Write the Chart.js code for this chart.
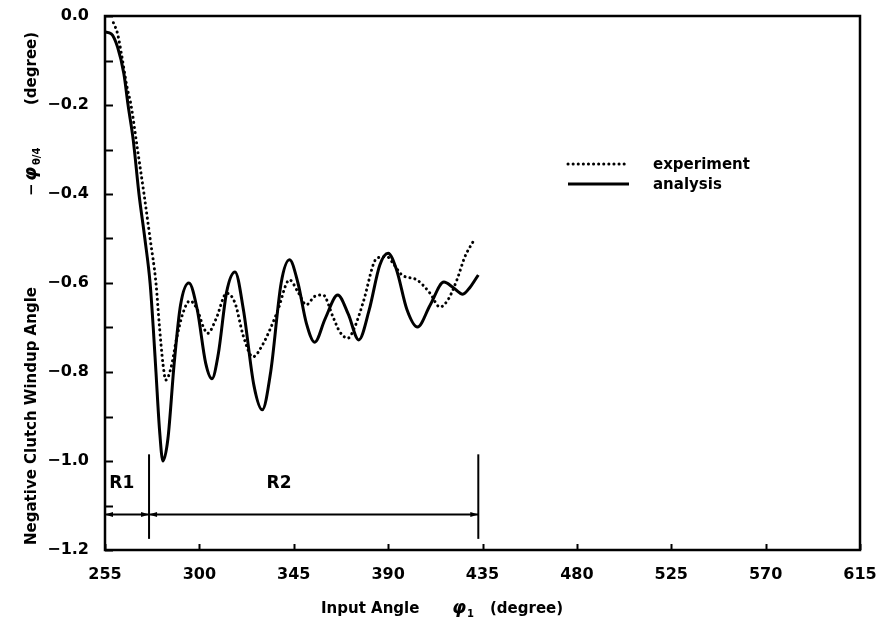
<!DOCTYPE html>
<html>
<head>
<meta charset="utf-8">
<script src="https://cdn.jsdelivr.net/npm/chart.js@4.4.1/dist/chart.umd.min.js"></script>
<style>
  html, body { margin: 0; padding: 0; background: #fff; }
  #wrap { width: 882px; height: 628px; }
</style>
</head>
<body>
<div id="wrap"><canvas id="windup" width="882" height="628"></canvas></div>
<script>
// analysis curve (solid)
const analysisX = [255, 258, 261, 264, 266, 268.5, 271.2, 274, 276.5, 278, 279.3, 281, 282.6, 285, 288, 291, 295, 299, 303, 306, 309, 313, 317, 321, 326, 330, 334, 339, 343, 347, 351, 355, 360, 366, 371, 376, 381, 386, 390, 394, 399, 404, 410, 416.6, 421, 425.6, 429, 433];
const analysisY = [-0.036, -0.04, -0.07, -0.13, -0.2, -0.28, -0.4, -0.5, -0.6, -0.7, -0.8, -0.93, -1.0, -0.95, -0.78, -0.65, -0.60, -0.66, -0.78, -0.815, -0.76, -0.62, -0.575, -0.66, -0.83, -0.885, -0.80, -0.60, -0.548, -0.60, -0.69, -0.733, -0.68, -0.627, -0.67, -0.728, -0.66, -0.56, -0.533, -0.57, -0.66, -0.699, -0.65, -0.598, -0.61, -0.625, -0.61, -0.582];

// experiment curve (dotted)
const experimentX = [259, 261, 263, 265.5, 267.4, 270.5, 273.6, 276.5, 279.3, 281, 282.6, 284, 286.5, 289, 292, 295.5, 299, 302, 304, 308, 313, 317, 321, 325.5, 330, 337, 343, 347, 351, 355, 359, 363.7, 367, 370.8, 374, 378, 384.7, 389.4, 393, 396.6, 403.7, 410, 414.7, 418.5, 422.8, 426.6, 430.4];
const experimentY = [-0.015, -0.04, -0.09, -0.16, -0.2, -0.3, -0.4, -0.5, -0.6, -0.7, -0.78, -0.818, -0.79, -0.728, -0.67, -0.64, -0.66, -0.70, -0.713, -0.68, -0.623, -0.645, -0.72, -0.766, -0.74, -0.667, -0.593, -0.62, -0.649, -0.63, -0.627, -0.676, -0.71, -0.724, -0.70, -0.645, -0.544, -0.541, -0.56, -0.582, -0.593, -0.623, -0.654, -0.638, -0.593, -0.541, -0.508];

// region markers R1 / R2
const regionEdges = [255, 276, 433];
const regionNames = ['R1', 'R2'];
const regionLabelX = [263, 338];
const regionLabelY = -1.05;
const regionBarY = -1.12;
const regionLineTop = -0.985;
const regionLineBottom = -1.175;

const legendNames = ['experiment', 'analysis'];

const FONT = '"DejaVu Sans", sans-serif';

function toPoints(xs, ys) {
  return xs.map((x, i) => ({ x: x, y: ys[i] }));
}

// frame, inward ticks, region marks, legend and axis titles
const decorations = {
  id: 'decorations',
  afterDraw(chart) {
    const ctx = chart.ctx;
    const area = chart.chartArea;
    const xs = chart.scales.x;
    const ys = chart.scales.y;
    ctx.save();
    ctx.strokeStyle = '#000';
    ctx.fillStyle = '#000';
    ctx.lineCap = 'butt';

    // frame
    ctx.lineWidth = 2.5;
    ctx.strokeRect(area.left, area.top, area.right - area.left, area.bottom - area.top);

    // y ticks (major + half steps), pointing inward
    ctx.lineWidth = 2;
    ys.ticks.forEach(t => {
      [t.value, t.value - 0.1].forEach(v => {
        if (v < ys.min - 1e-9) return;
        const py = Math.round(ys.getPixelForValue(v)) + 0.5;
        ctx.beginPath();
        ctx.moveTo(area.left, py);
        ctx.lineTo(area.left + 8, py);
        ctx.stroke();
      });
    });
    // x ticks
    xs.ticks.forEach(t => {
      const px = Math.round(xs.getPixelForValue(t.value)) + 0.5;
      ctx.beginPath();
      ctx.moveTo(px, area.bottom);
      ctx.lineTo(px, area.bottom - 6);
      ctx.stroke();
    });

    // region boundaries and arrow bar
    ctx.lineWidth = 2;
    const topY = ys.getPixelForValue(regionLineTop);
    const botY = ys.getPixelForValue(regionLineBottom);
    regionEdges.slice(1).forEach(e => {
      const px = xs.getPixelForValue(e);
      ctx.beginPath();
      ctx.moveTo(px, topY);
      ctx.lineTo(px, botY);
      ctx.stroke();
    });
    const barY = ys.getPixelForValue(regionBarY);
    const x0 = xs.getPixelForValue(regionEdges[0]);
    const x2 = xs.getPixelForValue(regionEdges[2]);
    ctx.beginPath();
    ctx.moveTo(x0, barY);
    ctx.lineTo(x2, barY);
    ctx.stroke();
    function arrow(px, dir) {
      ctx.beginPath();
      ctx.moveTo(px, barY);
      ctx.lineTo(px - dir * 8, barY - 2.5);
      ctx.lineTo(px - dir * 8, barY + 2.5);
      ctx.closePath();
      ctx.fill();
    }
    for (let i = 0; i < regionEdges.length - 1; i++) {
      arrow(xs.getPixelForValue(regionEdges[i]), -1);
      arrow(xs.getPixelForValue(regionEdges[i + 1]), 1);
    }
    ctx.font = 'bold 17px ' + FONT;
    ctx.textAlign = 'center';
    ctx.textBaseline = 'middle';
    regionNames.forEach((n, i) => {
      ctx.fillText(n, xs.getPixelForValue(regionLabelX[i]), ys.getPixelForValue(regionLabelY));
    });

    // legend
    const ds = chart.data.datasets;
    const legY = [164, 184];
    ds.forEach((d, i) => {
      ctx.save();
      ctx.strokeStyle = d.borderColor;
      ctx.lineWidth = d.borderWidth;
      ctx.lineCap = d.borderCapStyle || 'butt';
      ctx.setLineDash(d.borderDash || []);
      ctx.beginPath();
      ctx.moveTo(568, legY[i]);
      ctx.lineTo(629, legY[i]);
      ctx.stroke();
      ctx.restore();
      ctx.font = 'bold 15px ' + FONT;
      ctx.textAlign = 'left';
      ctx.textBaseline = 'middle';
      ctx.fillText(legendNames[i], 653, legY[i] + 1);
    });

    // x axis title
    ctx.textBaseline = 'alphabetic';
    ctx.textAlign = 'left';
    ctx.font = 'bold 15px ' + FONT;
    ctx.fillText('Input Angle', 321, 613);
    ctx.font = 'italic bold 18px ' + FONT;
    ctx.fillText('φ', 452, 613);
    ctx.font = 'bold 10px ' + FONT;
    ctx.fillText('1', 467, 617);
    ctx.font = 'bold 15px ' + FONT;
    ctx.fillText('(degree)', 490, 613);

    // y axis title
    ctx.translate(36, 545);
    ctx.rotate(-Math.PI / 2);
    ctx.font = 'bold 15px ' + FONT;
    ctx.fillText('Negative Clutch Windup Angle', 0, 0);
    ctx.fillText('−', 349, 0);
    ctx.font = 'italic bold 18px ' + FONT;
    ctx.fillText('φ', 364, 0);
    ctx.font = 'bold 10px ' + FONT;
    ctx.fillText('θ/4', 380, 4);
    ctx.font = 'bold 15px ' + FONT;
    ctx.fillText('(degree)', 440, 0);
    ctx.restore();
  }
};

new Chart(document.getElementById('windup').getContext('2d'), {
  type: 'line',
  data: {
    datasets: [
      {
        label: legendNames[0],
        data: toPoints(experimentX, experimentY),
        borderColor: '#000',
        borderWidth: 3,
        borderDash: [0.1, 5],
        borderCapStyle: 'round',
        pointRadius: 0,
        cubicInterpolationMode: 'monotone',
        fill: false
      },
      {
        label: legendNames[1],
        data: toPoints(analysisX, analysisY),
        borderColor: '#000',
        borderWidth: 3,
        pointRadius: 0,
        cubicInterpolationMode: 'monotone',
        fill: false
      }
    ]
  },
  options: {
    responsive: false,
    animation: false,
    layout: { padding: { left: 0, top: 16, right: 22, bottom: 0 } },
    plugins: {
      legend: { display: false },
      tooltip: { enabled: false }
    },
    scales: {
      x: {
        type: 'linear',
        min: 255,
        max: 615,
        grid: { display: false, drawTicks: false },
        border: { display: false },
        ticks: {
          stepSize: 45,
          padding: 15,
          color: '#000',
          font: { family: FONT, size: 16, weight: 'bold' }
        },
        afterFit(scale) {
          scale.height = 78;
          scale.paddingLeft = 0;
          scale.paddingRight = 0;
        }
      },
      y: {
        min: -1.2,
        max: 0,
        grid: { display: false, drawTicks: false },
        border: { display: false },
        ticks: {
          stepSize: 0.2,
          padding: 16,
          color: '#000',
          font: { family: FONT, size: 16, weight: 'bold' },
          callback: v => Math.abs(v) < 1e-9 ? '0.0' : '−' + Math.abs(v).toFixed(1)
        },
        afterFit(scale) {
          scale.width = 105;
          scale.paddingTop = 0;
          scale.paddingBottom = 0;
        }
      }
    }
  },
  plugins: [decorations]
});
</script>
</body>
</html>
